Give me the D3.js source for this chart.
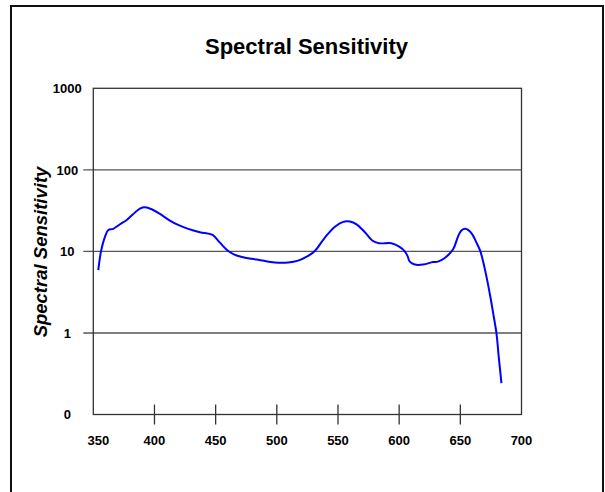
<!DOCTYPE html>
<html>
<head>
<meta charset="utf-8">
<script src="https://cdn.jsdelivr.net/npm/d3@7"></script>
<style>
  body { margin: 0; background: #fff; }
  svg { display: block; font-family: "Liberation Sans", Arial, sans-serif; }
</style>
</head>
<body>
<svg id="chart" width="605" height="492"></svg>
<script>
// wavelength (nm) and sensitivity
const wavelengths = [354.1, 356.3, 359.6, 362.3, 366.3, 371.8, 377.3, 382.7, 388.1, 392.2,
  397.7, 404.5, 412.6, 419.4, 427.6, 437.1, 447.5, 453.5, 460.3, 467.1,
  475.3, 484.8, 498.4, 509.3, 517.4, 525.6, 531.1, 539.3, 547.5, 554.2,
  559.7, 565.2, 572, 578, 583.5, 593.7, 599.7, 604.6, 606.8, 608.7,
  612.8, 619.6, 627.7, 631.8, 637.3, 644.1, 648.1, 650.9, 654.2, 659.1,
  663.2, 666.4, 670.5, 674.5, 677.3, 679.5, 681.4, 683.6];
const sensitivity = [5.9, 10, 15.2, 18.3, 18.9, 21.5, 24.3, 28.8, 33.5, 34.8,
  32.9, 28.8, 23.9, 21.1, 18.9, 17.2, 15.9, 12.8, 10.1, 8.9,
  8.3, 7.9, 7.3, 7.3, 7.7, 8.8, 10.1, 14.8, 20.1, 23,
  23.2, 21.5, 17.2, 13.6, 12.6, 12.6, 11.5, 10, 8.8, 7.5,
  6.9, 6.9, 7.4, 7.5, 8.3, 10.6, 15.2, 18, 18.9, 16.7,
  12.8, 10, 5.65, 2.8, 1.59, 1.0, 0.51, 0.243];
const xTicks = [350, 400, 450, 500, 550, 600, 650, 700];
const yTicks = [0.1, 1, 10, 100, 1000];
const yTickLabels = ['0', '1', '10', '100', '1000'];

const svg = d3.select('svg#chart'),
  margin = {left: 93.3, top: 88.3},
  width = 521.5 - margin.left,
  height = 414.5 - margin.top;

// outer frame
svg.append('rect')
  .attr('x', 11).attr('y', 6)
  .attr('width', 592).attr('height', 520)
  .attr('fill', 'none')
  .attr('stroke', '#111')
  .attr('stroke-width', 2);

svg.append('text')
  .attr('x', 306.5).attr('y', 53.5)
  .attr('text-anchor', 'middle')
  .style('font-size', '22px')
  .style('font-weight', 'bold')
  .text('Spectral Sensitivity');

const x = d3.scaleLinear().domain([350, 700]).range([0, width]),
  y = d3.scaleLog().domain([0.1, 1000]).range([height, 0]),
  g = svg.append('g')
    .attr('transform', `translate(${margin.left},${margin.top})`);

// horizontal grid lines, poking out past the left axis
g.selectAll('line.grid')
  .data(yTicks.slice(1, -1))
  .enter()
  .append('line')
  .attr('x1', -10).attr('x2', width)
  .attr('y1', d => y(d)).attr('y2', d => y(d))
  .attr('stroke', '#555')
  .attr('stroke-width', 1.4);

// plot frame
g.append('rect')
  .attr('width', width).attr('height', height)
  .attr('fill', 'none')
  .attr('stroke', '#333')
  .attr('stroke-width', 1.3);

// x ticks cross the bottom axis
g.selectAll('line.xtick')
  .data(xTicks.slice(1, -1))
  .enter()
  .append('line')
  .attr('x1', d => x(d)).attr('x2', d => x(d))
  .attr('y1', height - 10).attr('y2', height + 10)
  .attr('stroke', '#333')
  .attr('stroke-width', 1.3);

g.selectAll('text.xlab')
  .data(xTicks)
  .enter()
  .append('text')
  .attr('x', (d, i) => x(d) + (i === 0 ? 5 : 0))
  .attr('y', height + 31)
  .attr('text-anchor', 'middle')
  .style('font-size', '13px')
  .style('font-weight', 'bold')
  .text(d => d);

g.selectAll('text.ylab')
  .data(yTicks)
  .enter()
  .append('text')
  .attr('x', -26)
  .attr('y', d => y(d))
  .attr('dy', '0.36em')
  .attr('text-anchor', 'middle')
  .style('font-size', '13px')
  .style('font-weight', 'bold')
  .text((d, i) => yTickLabels[i]);

svg.append('text')
  .attr('transform', 'translate(47,252) rotate(-90)')
  .attr('text-anchor', 'middle')
  .style('font-size', '18.5px')
  .style('font-weight', 'bold')
  .style('font-style', 'italic')
  .text('Spectral Sensitivity');

const line = d3.line()
  .x(d => x(d[0]))
  .y(d => y(d[1]))
  .curve(d3.curveCatmullRom.alpha(0.5));

g.append('path')
  .datum(d3.zip(wavelengths, sensitivity))
  .attr('d', line)
  .attr('fill', 'none')
  .attr('stroke', '#0000ff')
  .attr('stroke-width', 2);
</script>
</body>
</html>
